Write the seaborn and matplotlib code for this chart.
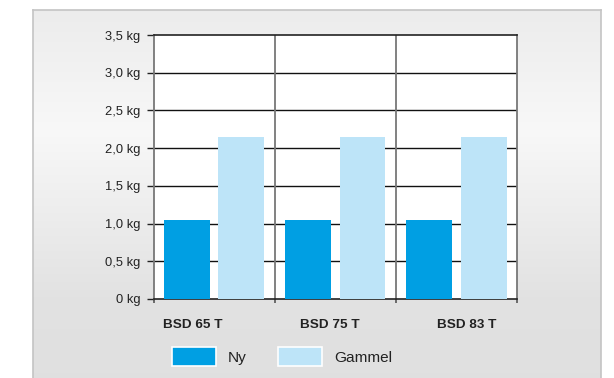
import numpy as np
import pandas as pd
import matplotlib
matplotlib.use("Agg")
import matplotlib.pyplot as plt
import seaborn as sns

categories = ["BSD 65 T", "BSD 75 T", "BSD 83 T"]
ny_values = [1.05, 1.05, 1.05]
gammel_values = [2.15, 2.15, 2.15]
series_names = ["Ny", "Gammel"]
y_ticks = [0, 0.5, 1.0, 1.5, 2.0, 2.5, 3.0, 3.5]
y_tick_labels = ["0 kg", "0,5 kg", "1,0 kg", "1,5 kg", "2,0 kg", "2,5 kg", "3,0 kg", "3,5 kg"]

df = pd.DataFrame({
    "cat": categories * 2,
    "series": [series_names[0]] * 3 + [series_names[1]] * 3,
    "value": ny_values + gammel_values,
})

sns.set_theme(style="white")
plt.rcParams["font.family"] = ["Liberation Sans", "DejaVu Sans"]

W, H = 614, 378
fig = plt.figure(figsize=(W / 100, H / 100), dpi=100)
fig.patch.set_facecolor("white")

# background panel with a soft vertical gradient (light band in the upper part)
bg = fig.add_axes([33 / W, 0, (601 - 33) / W, (H - 10) / H])
ypix = np.linspace(10, H, 368)
shade = np.interp(ypix, [10, 130, 300, H], [0.925, 0.972, 0.885, 0.878])
img = np.repeat(shade[:, None, None], 3, axis=2) * np.ones((1, 2, 3))
bg.imshow(img, aspect="auto", extent=[0, 1, 0, 1], origin="upper")
bg.set_xlim(0, 1); bg.set_ylim(0, 1)
bg.set_xticks([]); bg.set_yticks([])
for s in ["left", "top", "right"]:
    bg.spines[s].set_color("#c4c4c4")
    bg.spines[s].set_linewidth(1.2)
bg.spines["bottom"].set_visible(False)

L, R, T, B = 153.5, 517, 35, 299
ax = fig.add_axes([L / W, 1 - B / H, (R - L) / W, (B - T) / H])
ax.set_facecolor("white")

palette = {"Ny": "#009fe3", "Gammel": "#bde4f8"}
sns.barplot(data=df, x="cat", y="value", hue="series", palette=palette,
            width=0.9, gap=0.16, ax=ax, saturation=1, zorder=3, linewidth=0)

ax.set_xlim(-0.5, 2.5)
ax.set_ylim(0, 3.5)
ax.set_yticks(y_ticks)
ax.set_yticklabels(y_tick_labels, fontsize=9.3, color="#222222")
# category labels in the original sit on a slightly wider pitch than the bars
label_pos = [-0.174 + 1.13 * i for i in range(len(categories))]
ax.set_xticks(label_pos)
ax.set_xticklabels(categories, fontsize=9.7, fontweight="bold", color="#222222")
ax.set_xlabel(""); ax.set_ylabel("")

for y in y_ticks[1:-1]:
    ax.axhline(y, color="#111111", lw=1.0, zorder=1)
for x in [0.5, 1.5]:
    ax.axvline(x, color="#777777", lw=1.3, zorder=1)

ax.tick_params(axis="y", which="both", left=True, length=5, width=1.0,
               color="#222222", pad=4.3)
ax.tick_params(axis="x", which="major", bottom=False, pad=8.5)
ax.set_xticks([-0.5, 0.5, 1.5, 2.5], minor=True)
ax.tick_params(axis="x", which="minor", bottom=True, length=3, width=1.2, color="#555555")

for s in ["left", "right"]:
    ax.spines[s].set_color("#777777"); ax.spines[s].set_linewidth(1.3)
for s in ["top", "bottom"]:
    ax.spines[s].set_color("#222222"); ax.spines[s].set_linewidth(1.2)

handles, labels = ax.get_legend_handles_labels()
ax.get_legend().remove()
for h in handles:
    h.set_edgecolor("white"); h.set_linewidth(1.2)
leg = fig.legend(handles, labels, loc="center", bbox_to_anchor=(282 / W, 1 - 356.5 / H),
                 ncol=2, frameon=False, fontsize=11.1, handlelength=2.86, handleheight=1.5,
                 columnspacing=2.0, handletextpad=0.78)
for t in leg.get_texts():
    t.set_color("#222222")

fig.savefig("out.png", dpi=100)
